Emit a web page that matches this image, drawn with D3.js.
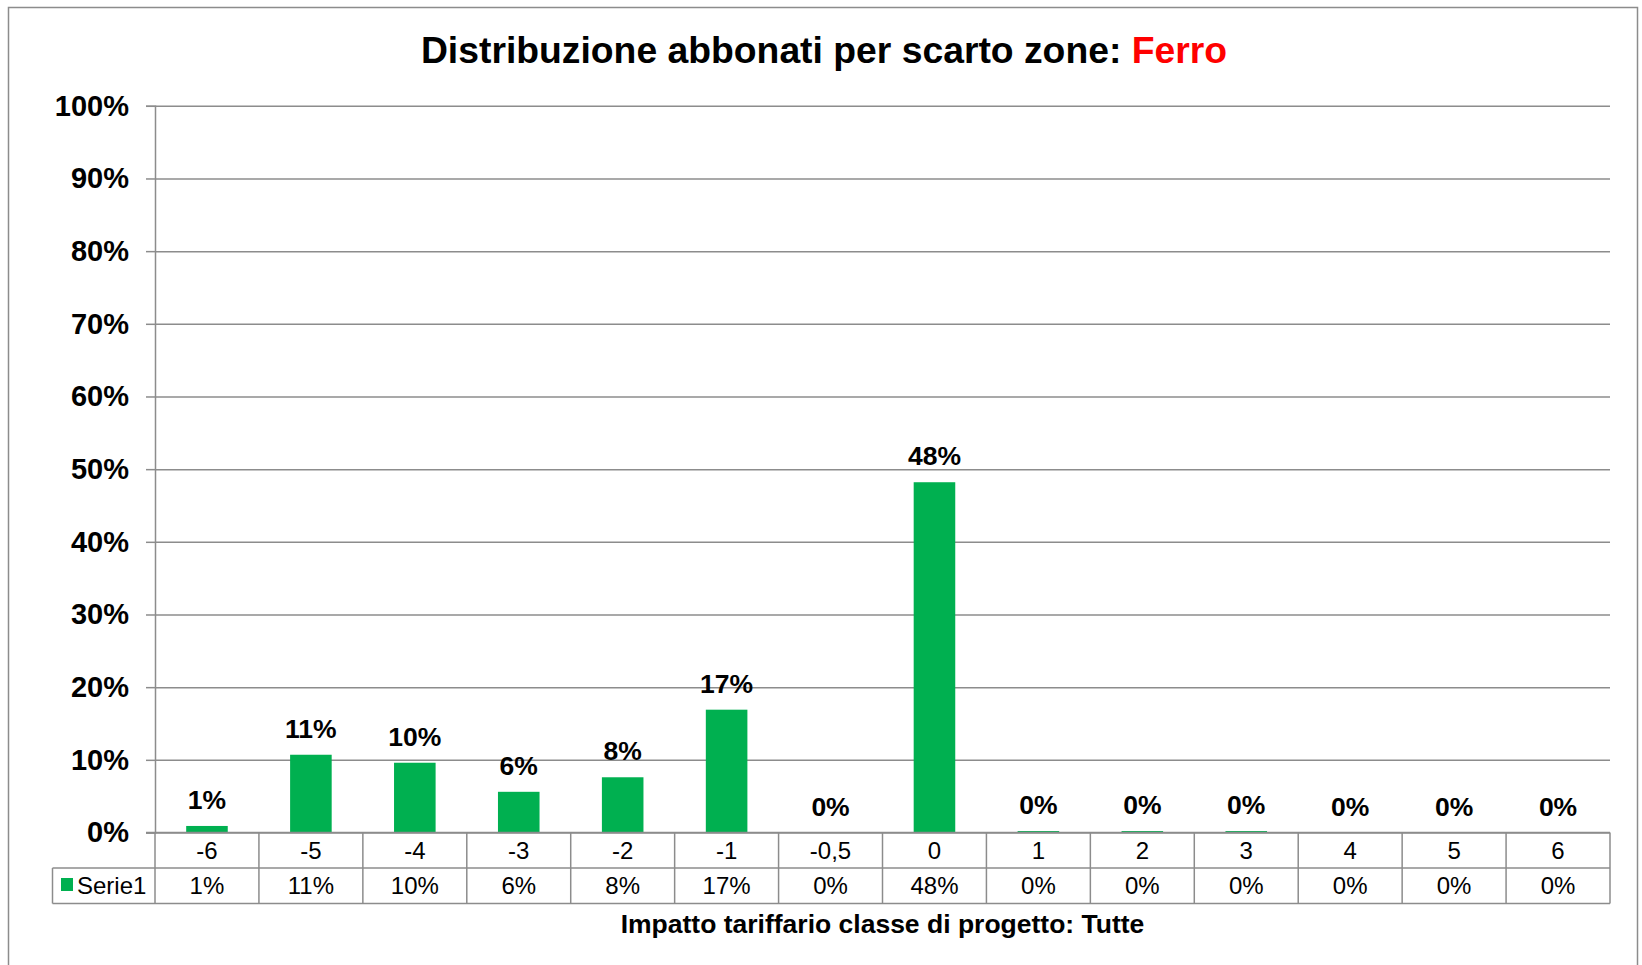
<!DOCTYPE html>
<html lang="it">
  <head>
    <meta charset="utf-8">
    <title>Distribuzione abbonati per scarto zone: Ferro</title>
    <style>
      body { margin: 0; background: #fff; }
      svg text { font-family: "Liberation Sans", Arial, sans-serif; fill: #000; }
    </style>
  </head>
  <body>
    <svg width="1642" height="965"></svg>
    <script src="https://d3js.org/d3.v7.min.js"></script>
    <script>
      // data
      var categories = ["-6", "-5", "-4", "-3", "-2", "-1", "-0,5", "0", "1", "2", "3", "4", "5", "6"];
      var values = [0.009, 0.107, 0.096, 0.056, 0.076, 0.169, 0, 0.482, 0.002, 0.002, 0.002, 0, 0, 0];
      var yTicks = [0, 0.1, 0.2, 0.3, 0.4, 0.5, 0.6, 0.7, 0.8, 0.9, 1];
      var seriesName = "Serie1";

      var green = "#00b050", grid = "#8c8c8c";
      var svg = d3.select("svg");
      var pct = d3.format(".0%");

      var plotLeft = 155, plotRight = 1610, plotTop = 105.8, plotBottom = 832.5;
      var rowH = 35.5;

      // outer chart frame
      svg.append("rect")
        .attr("x", 8.5).attr("y", 7.5)
        .attr("width", 1629).attr("height", 970)
        .attr("fill", "none").attr("stroke", grid).attr("stroke-width", 1.5);

      // title
      var title = svg.append("text")
        .attr("x", 824).attr("y", 63)
        .attr("text-anchor", "middle")
        .style("font-size", "37.3px").style("font-weight", "bold");
      title.append("tspan").text("Distribuzione abbonati per scarto zone: ");
      title.append("tspan").style("fill", "#ff0000").text("Ferro");

      var x = d3.scaleBand().domain(categories).range([plotLeft, plotRight]).paddingInner(0.6).paddingOuter(0.3);
      var y = d3.scaleLinear().domain([0, 1]).range([plotBottom, plotTop]);

      // gridlines
      svg.append("g")
        .attr("transform", "translate(" + plotLeft + ",0)")
        .call(d3.axisLeft(y).tickValues(yTicks).tickSize(-(plotRight - plotLeft)).tickFormat(""))
        .call(g => g.selectAll("line").attr("stroke", grid).attr("stroke-width", 1.5))
        .call(g => g.select(".domain").remove());

      // y axis
      svg.append("g")
        .attr("transform", "translate(" + plotLeft + ",0)")
        .call(d3.axisLeft(y).tickValues(yTicks).tickSize(9).tickPadding(17).tickFormat(pct))
        .call(g => g.select(".domain").attr("stroke", grid).attr("stroke-width", 1.5))
        .call(g => g.selectAll("line").attr("stroke", grid).attr("stroke-width", 1.5))
        .call(g => g.selectAll("text")
          .attr("fill", "#000")
          .style("font-size", "29px").style("font-weight", "bold")
          .style("font-family", "'Liberation Sans', Arial, sans-serif"));

      // bars
      svg.append("g").selectAll("rect")
        .data(values)
        .enter()
        .append("rect")
        .attr("x", (d, i) => x(categories[i]))
        .attr("width", x.bandwidth())
        .attr("y", d => y(d))
        .attr("height", d => plotBottom - y(d))
        .attr("fill", green);

      // data labels
      svg.append("g").selectAll("text")
        .data(values)
        .enter()
        .append("text")
        .attr("x", (d, i) => x(categories[i]) + x.bandwidth() / 2)
        .attr("y", d => y(d) - 17)
        .attr("text-anchor", "middle")
        .style("font-size", "26.5px").style("font-weight", "bold")
        .text(d => pct(d));

      // data table under the axis
      var step = x.step();
      var table = svg.append("g").attr("stroke", grid).attr("stroke-width", 1.5);
      var legendLeft = 52.5;
      table.append("line").attr("x1", plotLeft - 9).attr("x2", plotRight).attr("y1", plotBottom).attr("y2", plotBottom);
      table.append("line").attr("x1", legendLeft).attr("x2", plotRight).attr("y1", plotBottom + rowH).attr("y2", plotBottom + rowH);
      table.append("line").attr("x1", legendLeft).attr("x2", plotRight).attr("y1", plotBottom + 2 * rowH).attr("y2", plotBottom + 2 * rowH);
      table.append("line").attr("x1", legendLeft).attr("x2", legendLeft).attr("y1", plotBottom + rowH).attr("y2", plotBottom + 2 * rowH);
      table.selectAll(".vline")
        .data(d3.range(categories.length + 1))
        .enter()
        .append("line")
        .attr("x1", i => plotLeft + i * step).attr("x2", i => plotLeft + i * step)
        .attr("y1", plotBottom).attr("y2", plotBottom + 2 * rowH);

      svg.append("g").selectAll("text")
        .data(categories)
        .enter()
        .append("text")
        .attr("x", d => x(d) + x.bandwidth() / 2)
        .attr("y", plotBottom + rowH / 2)
        .attr("dy", "0.35em")
        .attr("text-anchor", "middle")
        .style("font-size", "24px")
        .text(d => d);

      svg.append("g").selectAll("text")
        .data(values)
        .enter()
        .append("text")
        .attr("x", (d, i) => x(categories[i]) + x.bandwidth() / 2)
        .attr("y", plotBottom + rowH * 1.5)
        .attr("dy", "0.35em")
        .attr("text-anchor", "middle")
        .style("font-size", "24px")
        .text(d => pct(d));

      // legend key in the table
      svg.append("rect")
        .attr("x", 61).attr("y", 878).attr("width", 12).attr("height", 13)
        .attr("fill", green);
      svg.append("text")
        .attr("x", 77).attr("y", plotBottom + rowH * 1.5).attr("dy", "0.35em")
        .style("font-size", "24px")
        .text(seriesName);

      // x axis title
      svg.append("text")
        .attr("x", (plotLeft + plotRight) / 2).attr("y", 933)
        .attr("text-anchor", "middle")
        .style("font-size", "26.5px").style("font-weight", "bold")
        .text("Impatto tariffario classe di progetto: Tutte");
    </script>
  </body>
</html>
